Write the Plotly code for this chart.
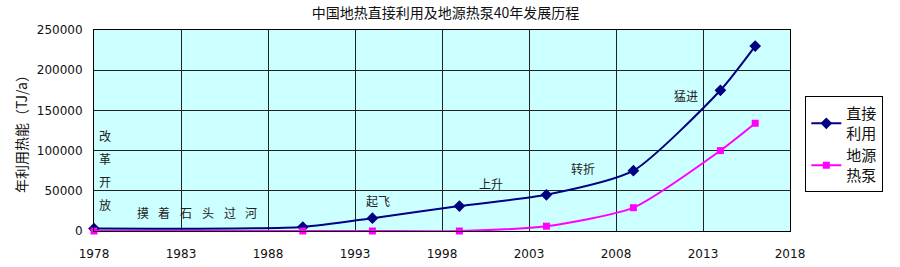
import plotly.graph_objects as go

years = [1978, 1990, 1994, 1999, 2004, 2009, 2014, 2016]
direct_use = [3000, 5000, 16000, 31000, 45000, 75000, 175000, 230000]
heat_pump = [0, 0, 0, 0, 6000, 29000, 100000, 134000]
series_names = ["直接<br>利用", "地源<br>热泵"]
title_text = "中国地热直接利用及地源热泵40年发展历程"
y_title = "年利用热能（TJ/a）"

# vertical phrase 改革开放
vertical_chars = ["改", "革", "开", "放"]
vertical_values = [119000, 90000, 61000, 33000]
vertical_year = 1978.2

# spaced phrase 摸着石头过河
spaced_chars = ["摸", "着", "石", "头", "过", "河"]
spaced_years = [1980.8, 1982.05, 1983.3, 1984.55, 1985.8, 1987.05]
spaced_value = 23000

# stage labels
stage_texts = ["起飞", "上升", "转折", "猛进"]
stage_years = [1994.3, 2000.8, 2006.1, 2012.0]
stage_values = [38000, 59000, 78000, 168000]

cjk = "Noto Sans CJK SC"
fig = go.Figure()
fig.add_trace(go.Scatter(
    x=years, y=direct_use, name=series_names[0], mode="lines+markers",
    line=dict(color="#000080", width=2, shape="spline", smoothing=0.6),
    marker=dict(symbol="diamond", size=9, color="#000080"), cliponaxis=False,
))
fig.add_trace(go.Scatter(
    x=years, y=heat_pump, name=series_names[1], mode="lines+markers",
    line=dict(color="#FF00FF", width=2, shape="spline", smoothing=0.6),
    marker=dict(symbol="square", size=7, color="#FF00FF"), cliponaxis=False,
))

note_font = dict(family=cjk, size=12, color="#222222")
for ch, yv in zip(vertical_chars, vertical_values):
    fig.add_annotation(x=vertical_year, y=yv, text=ch, showarrow=False,
                       font=note_font, xanchor="left")
for ch, xv in zip(spaced_chars, spaced_years):
    fig.add_annotation(x=xv, y=spaced_value, text=ch, showarrow=False,
                       font=note_font, xanchor="center")
for txt, xv, yv in zip(stage_texts, stage_years, stage_values):
    fig.add_annotation(x=xv, y=yv, text=txt, showarrow=False,
                       font=note_font, xanchor="center")

fig.update_layout(
    width=900, height=267,
    margin=dict(l=94, r=110, t=30, b=36),
    paper_bgcolor="white",
    plot_bgcolor="#CCFFFF",
    title=dict(text=title_text, x=0.495, xanchor="center", y=0.95, yanchor="middle",
               font=dict(family=cjk, size=14, color="#111111")),
    showlegend=True,
    legend=dict(x=1.022, y=0.67, xanchor="left", yanchor="top",
                bgcolor="white", bordercolor="black", borderwidth=1,
                font=dict(family=cjk, size=15, color="#111111"),
                itemwidth=30),
    font=dict(family="DejaVu Sans", size=12, color="#111111"),
)
fig.update_xaxes(range=[1978, 2018], dtick=5, tick0=1978, showgrid=True,
                 gridcolor="#222222", gridwidth=1, showline=True, linecolor="black",
                 mirror=True, zeroline=False, ticks="", ticklabelstandoff=12,
                 automargin=False, fixedrange=True)
fig.update_yaxes(range=[0, 250000], dtick=50000, showgrid=True,
                 gridcolor="#222222", gridwidth=1, showline=True, linecolor="black",
                 mirror=True, zeroline=False, ticks="", tickformat="d",
                 ticklabelstandoff=8, automargin=False,
                 title=dict(text=y_title, font=dict(family=cjk, size=14), standoff=5))

fig.write_html("out.html")
